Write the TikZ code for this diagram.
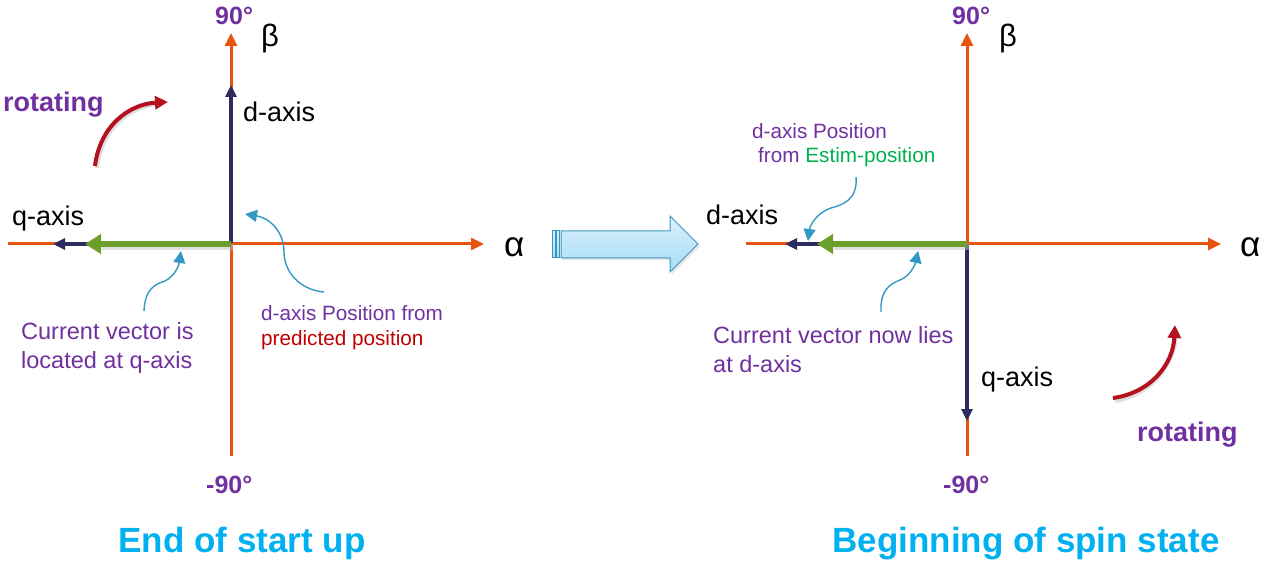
\documentclass[tikz,border=0pt]{standalone}
\usepackage{fontspec}
\setmainfont{Liberation Sans}
\usetikzlibrary{arrows.meta}
\definecolor{axisor}{HTML}{E8540E}
\definecolor{navy}{HTML}{2E2B60}
\definecolor{vgreen}{HTML}{6B9F2A}
\definecolor{purp}{HTML}{7030A0}
\definecolor{predred}{HTML}{C00000}
\definecolor{arcred}{HTML}{B4121E}
\definecolor{callout}{HTML}{3399C3}
\definecolor{estgreen}{HTML}{00B050}
\definecolor{capblue}{HTML}{00B0F0}
\definecolor{blkfillA}{HTML}{D9F1FD}
\definecolor{blkfillB}{HTML}{A9DCF5}
\definecolor{blkdraw}{HTML}{3A96C0}
\begin{document}
\begin{tikzpicture}[x=1pt,y=-1pt,
  axisline/.style={axisor,line width=3pt,-{Triangle[length=13pt,width=12pt]}},
  navyvec/.style={navy,line width=4pt,-{Triangle[length=12pt,width=11pt]}},
  greenvec/.style={vgreen,line width=6.5pt,-{Triangle[length=16pt,width=19pt]}},
  shadowvec/.style={black!25,line width=6.5pt,opacity=0.5},
  calloutarr/.style={callout,line width=1.4pt,-{Triangle[length=12pt,width=12pt]}},
  arcarr/.style={arcred,line width=4pt,-{Triangle[length=13pt,width=13pt]}},
  arcshadow/.style={black!25,line width=4pt,opacity=0.5},
  lbl/.style={inner sep=0pt,font=\fontsize{27}{32}\selectfont},
  greek/.style={inner sep=0pt,font=\fontsize{31}{36}\selectfont},
  greekalpha/.style={inner sep=0pt,font=\fontsize{35}{40}\selectfont},
  deg/.style={inner sep=0pt,purp,font=\fontsize{25}{30}\selectfont\bfseries},
  rot/.style={inner sep=0pt,purp,font=\fontsize{27}{32}\selectfont\bfseries},
  note/.style={inner sep=0pt,purp,font=\fontsize{23.5}{28}\selectfont},
  smallnote/.style={inner sep=0pt,purp,font=\fontsize{20.7}{25}\selectfont},
  caption/.style={inner sep=0pt,capblue,font=\fontsize{35}{40}\selectfont\bfseries},
  blockfill/.style={top color=blkfillA,bottom color=blkfillB,draw=blkdraw,line width=1pt}
]
\useasboundingbox (0,0) rectangle (1261,561);

% ---------------- left diagram ----------------
\coordinate (O1) at (231,244);
\coordinate (L1) at (8,244);
\coordinate (R1) at (484,244);
\coordinate (T1) at (231,33);
\coordinate (B1) at (231,456);
\coordinate (D1) at (231,85);
\coordinate (Q1) at (53,244);
\coordinate (G1) at (85,244);

\draw[axisor,line width=3pt] (L1) -- (O1);
\draw[axisline] (O1) -- (R1);
\draw[axisline] (B1) -- (T1);
\draw[navyvec] (O1) -- (D1);
\draw[navyvec] (O1) -- (Q1);
\draw[shadowvec] ([shift={(1.5,2.5)}]O1) -- ([shift={(1.5,2.5)}]100,244);
\draw[greenvec] (O1) -- (G1);

\node[deg,anchor=base west] (n90a) at (215,25) {90°};
\node[deg,anchor=base west] (nm90a) at (206,493) {-90°};
\node[greek,anchor=base west] (beta1) at (261,47) {β};
\node[greekalpha,anchor=base west] (alpha1) at (504,257) {α};
\node[lbl,anchor=base west] (dax1) at (243,122) {d-axis};
\node[lbl,anchor=base west] (qax1) at (12,226) {q-axis};
\node[rot,anchor=base west] (rot1) at (3,112) {rotating};

\coordinate (ra1) at (95,166);
\coordinate (rb1) at (168,102);
\draw[arcshadow] ([shift={(2,2)}]ra1) .. controls (102,127) and (130,107) .. (158,104);
\draw[arcarr] (ra1) .. controls (100,125) and (130,104) .. (rb1);

\node[note,anchor=base west] (cv1a) at (21,340) {Current vector is};
\node[note,anchor=base west] (cv1b) at (21,368) {located at q-axis};
\coordinate (c1s) at (144,311);
\coordinate (c1e) at (181,251);
\draw[calloutarr] (c1s) .. controls (145,288) and (156,284) .. (165,281) .. controls (175,276) and (179,265) .. (c1e);

\node[smallnote,anchor=base west] (dp1a) at (261,320) {d-axis Position from};
\node[smallnote,anchor=base west,predred] (dp1b) at (261,345) {predicted position};
\coordinate (c2s) at (324,292);
\coordinate (c2e) at (245,214);
\draw[calloutarr] (c2s) .. controls (300,290) and (284,272) .. (284,252) .. controls (284,232) and (270,218) .. (c2e);

\node[caption,anchor=base] (cap1) at (242,552) {End of start up};

% ---------------- block arrow ----------------
\fill[black!20,opacity=0.5] (563,233) -- (672,233) -- (672,218) -- (700,246) -- (672,274) -- (672,260) -- (563,260) -- cycle;
\path[blockfill]
  (561,231) -- (670,231) -- (670,216) -- (698,244) -- (670,272) -- (670,258) -- (561,258) -- cycle;
\path[blockfill] (552,231) rectangle (555,258);
\path[blockfill] (556.5,231) rectangle (559.5,258);
\node[inner sep=0pt] (blk) at (625,244) {};

% ---------------- right diagram ----------------
\coordinate (O2) at (967,244);
\coordinate (L2) at (746,244);
\coordinate (R2) at (1221,244);
\coordinate (T2) at (967,33);
\coordinate (B2) at (967,456);
\coordinate (D2) at (785,244);
\coordinate (Q2) at (967,421);
\coordinate (G2) at (817,244);

\draw[axisor,line width=3pt] (L2) -- (O2);
\draw[axisline] (O2) -- (R2);
\draw[axisline] (B2) -- (T2);
\draw[navyvec] (O2) -- (Q2);
\draw[navyvec] (O2) -- (D2);
\draw[shadowvec] ([shift={(1.5,2.5)}]O2) -- ([shift={(1.5,2.5)}]832,244);
\draw[greenvec] (O2) -- (G2);

\node[deg,anchor=base west] (n90b) at (952,25) {90°};
\node[deg,anchor=base west] (nm90b) at (943,493) {-90°};
\node[greek,anchor=base west] (beta2) at (999,47) {β};
\node[greekalpha,anchor=base west] (alpha2) at (1240,257) {α};
\node[lbl,anchor=base west] (dax2) at (706,225) {d-axis};
\node[lbl,anchor=base west] (qax2) at (981,386) {q-axis};
\node[rot,anchor=base west] (rot2) at (1137,441) {rotating};

\coordinate (ra2) at (1113,398);
\coordinate (rb2) at (1175,325);
\draw[arcshadow] ([shift={(2,3)}]ra2) .. controls (1150,395) and (1172,368) .. (1176,338);
\draw[arcarr] (ra2) .. controls (1150,393) and (1173,365) .. (rb2);

\node[smallnote,anchor=base west] (dp2a) at (752,139) {d-axis Position};
\node[smallnote,anchor=base west] (dp2b) at (758,163) {from \textcolor{estgreen}{Estim-position}};
\coordinate (c3s) at (856,177);
\coordinate (c3e) at (808,241);
\draw[calloutarr] (c3s) .. controls (858,200) and (842,205) .. (831,208) .. controls (816,213) and (810,226) .. (c3e);

\node[note,anchor=base west] (cv2a) at (713,344) {Current vector now lies};
\node[note,anchor=base west] (cv2b) at (713,372) {at d-axis};
\coordinate (c4s) at (881,312);
\coordinate (c4e) at (918,251);
\draw[calloutarr] (c4s) .. controls (880,290) and (890,284) .. (900,280) .. controls (910,276) and (915,265) .. (c4e);

\node[caption,anchor=base] (cap2) at (1026,552) {Beginning of spin state};
\end{tikzpicture}
\end{document}
